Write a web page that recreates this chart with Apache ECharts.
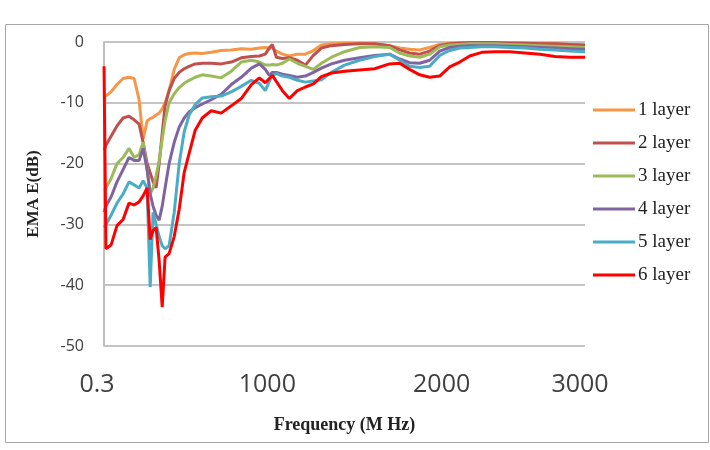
<!DOCTYPE html>
<html>
<head>
<meta charset="utf-8">
<script src="https://cdn.jsdelivr.net/npm/echarts@6/dist/echarts.min.js"></script>
<style>html,body{margin:0;padding:0;background:#fff}#c{width:710px;height:450px}</style>
</head>
<body>
<div id="c"></div>
<script>
const freq = [0.3, 12, 44, 81, 119, 156, 188, 219, 244, 269, 288, 306, 325, 344, 363, 381, 406, 438, 469, 500, 531, 569, 613, 669, 731, 794, 856, 919, 969, 1006, 1031, 1050, 1075, 1113, 1156, 1206, 1256, 1306, 1356, 1419, 1500, 1594, 1688, 1781, 1844, 1906, 1969, 2031, 2094, 2156, 2219, 2281, 2356, 2438, 2531, 2625, 2719, 2813, 2906, 3000];

const layer1 = [-9.1, -9.0, -8.2, -7.0, -6.0, -5.8, -6.0, -9.5, -16.0, -13.0, -12.6, -12.4, -12.0, -11.7, -11.0, -10.0, -8.0, -4.5, -2.6, -2.1, -1.9, -1.8, -1.9, -1.7, -1.4, -1.3, -1.1, -1.2, -1.0, -0.9, -1.0, -1.0, -1.5, -2.0, -2.3, -2.0, -2.0, -1.4, -0.5, -0.3, -0.2, -0.2, -0.3, -0.6, -1.0, -1.2, -1.3, -0.9, -0.4, -0.2, -0.1, -0.1, -0.1, -0.1, -0.1, -0.2, -0.2, -0.3, -0.4, -0.5];
const layer2 = [-17.8, -17.0, -15.5, -13.8, -12.5, -12.2, -12.8, -13.5, -16.5, -20.0, -21.5, -23.0, -24.0, -20.0, -15.0, -10.5, -8.0, -6.0, -5.0, -4.4, -4.0, -3.6, -3.5, -3.5, -3.6, -3.3, -2.6, -2.4, -2.3, -2.0, -1.0, -0.4, -2.5, -2.7, -2.6, -3.0, -3.8, -2.2, -1.0, -0.6, -0.4, -0.3, -0.3, -0.6, -1.3, -1.8, -2.0, -1.5, -0.6, -0.3, -0.2, -0.1, -0.1, -0.1, -0.2, -0.2, -0.3, -0.3, -0.4, -0.5];
const layer3 = [-24.5, -24.0, -22.5, -20.0, -19.0, -17.5, -19.0, -18.5, -16.5, -21.0, -25.0, -24.0, -22.0, -19.5, -16.0, -13.0, -10.0, -8.5, -7.5, -6.8, -6.3, -5.8, -5.4, -5.6, -5.9, -4.8, -3.3, -3.0, -3.3, -3.8, -3.8, -3.7, -3.8, -3.5, -2.8, -3.5, -4.0, -4.5, -3.5, -2.5, -1.6, -0.9, -0.8, -0.9, -1.8, -2.3, -2.5, -2.0, -0.8, -0.5, -0.4, -0.3, -0.3, -0.3, -0.4, -0.5, -0.6, -0.7, -0.8, -0.9];
const layer4 = [-28.0, -27.0, -25.5, -23.0, -21.0, -19.0, -19.5, -19.5, -17.5, -21.0, -25.0, -27.0, -28.5, -29.3, -27.0, -24.0, -20.0, -16.5, -14.0, -12.5, -11.5, -10.8, -10.2, -9.5, -8.6, -7.0, -5.8, -4.3, -3.6, -4.5, -5.5, -5.0, -5.0, -5.3, -5.5, -5.8, -5.6, -5.0, -4.3, -3.6, -3.0, -2.6, -2.2, -2.0, -2.8, -3.4, -3.5, -3.0, -1.5, -0.9, -0.7, -0.6, -0.6, -0.6, -0.7, -0.8, -0.9, -1.0, -1.1, -1.2];
const layer5 = [-30.5, -30.0, -28.5, -26.5, -25.0, -23.0, -23.5, -24.0, -22.8, -24.0, -40.3, -28.0, -30.0, -32.0, -33.5, -34.0, -33.5, -28.0, -20.0, -14.8, -12.0, -10.3, -9.2, -9.0, -8.9, -8.2, -7.3, -6.3, -6.8, -8.0, -6.5, -5.5, -5.2, -5.6, -5.8, -6.3, -6.6, -6.4, -6.2, -5.0, -3.8, -3.0, -2.4, -2.0, -3.0, -4.0, -4.2, -4.0, -2.2, -1.4, -1.0, -0.9, -0.8, -0.8, -0.9, -1.0, -1.2, -1.3, -1.5, -1.6];
const layer6 = [-4.0, -34.0, -33.4, -30.2, -29.2, -26.5, -26.8, -26.3, -25.3, -24.0, -32.5, -31.0, -30.5, -36.0, -43.6, -35.4, -34.8, -32.0, -27.5, -21.5, -18.3, -14.5, -12.5, -11.3, -11.7, -10.5, -9.3, -7.0, -5.9, -6.7, -6.0, -5.5, -6.5, -8.0, -9.3, -8.0, -7.4, -6.9, -5.7, -5.1, -4.8, -4.6, -4.4, -3.6, -3.5, -4.5, -5.4, -5.8, -5.6, -4.1, -3.3, -2.3, -1.7, -1.6, -1.6, -1.8, -2.0, -2.4, -2.5, -2.5];

const seriesNames = ['1 layer', '2 layer', '3 layer', '4 layer', '5 layer', '6 layer'];
const seriesValues = [layer1, layer2, layer3, layer4, layer5, layer6];
const colors = ['#F79646', '#C0504D', '#9BBB59', '#8064A2', '#4BACC6', '#FF0000'];

const xTickLabels = {0: '0.3', 1000: '1000', 2000: '2000', 3000: '3000'};
const yTickMin = -50, yTickMax = 0, yTickStep = 10;

const chart = echarts.init(document.getElementById('c'), null, {renderer: 'canvas'});
const option = {
  animation: false,
  backgroundColor: '#ffffff',
  color: colors,
  graphic: [{
    type: 'rect', left: 3, top: 22, z: -1,
    shape: {width: 703, height: 418},
    style: {fill: 'none', stroke: '#a6a6a6', lineWidth: 1}
  }],
  grid: {left: 104, right: 125, top: 42, bottom: 104, containLabel: false},
  legend: {
    orient: 'vertical', left: 588, top: 95,
    icon: 'rect', itemWidth: 42, itemHeight: 3, itemGap: 13,
    textStyle: {fontFamily: 'Liberation Serif', fontSize: 19, color: '#222', lineHeight: 20, padding: [0,0,0,-2]},
    data: seriesNames
  },
  xAxis: {
    type: 'value', min: 0, max: 3000, interval: 1000,
    name: 'Frequency (M Hz)', nameLocation: 'middle', nameGap: 70,
    nameTextStyle: {fontFamily: 'Liberation Serif', fontWeight: 'bold', fontSize: 18, color: '#222'},
    axisLine: {show: false}, axisTick: {show: false}, splitLine: {show: false},
    axisLabel: {
      margin: 26,
      formatter: function (v) {
        const t = xTickLabels[v];
        if (v === 0) return '{a|' + t + '}';
        if (v === 1000) return '{b|' + t + '}';
        if (v === 2000) return '{c|' + t + '}';
        return '{d|' + t + '}';
      },
      rich: {
        a: {fontFamily: 'Open Sans', fontSize: 25, color: '#404040', lineHeight: 26, padding: [0, 14, 0, 0]},
        b: {fontFamily: 'Open Sans', fontSize: 25, color: '#404040', lineHeight: 26, padding: [0, 0, 0, 6]},
        c: {fontFamily: 'Open Sans', fontSize: 25, color: '#404040', lineHeight: 26, padding: [0, 0, 0, 34]},
        d: {fontFamily: 'Open Sans', fontSize: 25, color: '#404040', lineHeight: 26, padding: [0, 10, 0, 0]}
      }
    }
  },
  yAxis: {
    type: 'value', min: yTickMin, max: yTickMax, interval: yTickStep,
    name: 'EMA E(dB)', nameLocation: 'middle', nameGap: 62, nameRotate: 90,
    nameTextStyle: {fontFamily: 'Liberation Serif', fontWeight: 'bold', fontSize: 17, color: '#222'},
    axisLine: {show: true, lineStyle: {color: '#bfbfbf', width: 2}},
    axisTick: {show: false},
    splitLine: {show: true, lineStyle: {color: '#c4c4c4', width: 2}},
    axisLabel: {margin: 20, fontFamily: 'Open Sans', fontSize: 16, color: '#404040'}
  },
  series: seriesNames.map(function (n, i) {
    return {
      name: n, type: 'line', showSymbol: false, symbol: 'none',
      lineStyle: {width: 3, color: colors[i]},
      data: freq.map(function (f, j) { return [f, seriesValues[i][j]]; })
    };
  })
};
chart.setOption(option);
</script>
</body>
</html>
